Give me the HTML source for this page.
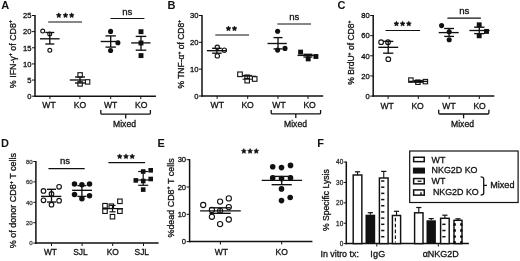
<!DOCTYPE html>
<html><head><meta charset="utf-8"><style>
html,body{margin:0;padding:0;background:#fff;}
body{width:520px;height:261px;overflow:hidden;}
svg{display:block;font-family:"Liberation Sans", sans-serif;will-change:transform;}
</style></head><body>
<svg width="520" height="261" viewBox="0 0 520 261">
<rect x="0" y="0" width="520" height="261" fill="#fff"/>
<text x="1.3" y="8.8" font-size="11" text-anchor="start" font-weight="bold" fill="#111" >A</text>
<line x1="35.0" y1="14.9" x2="35.0" y2="96.9" stroke="#111" stroke-width="1.5"/>
<line x1="32.0" y1="15.5" x2="35.0" y2="15.5" stroke="#111" stroke-width="1.0"/>
<text x="31.5" y="18.236" font-size="7.6" text-anchor="end" font-weight="normal" fill="#111" stroke="#111" stroke-width="0.3" >25</text>
<line x1="32.0" y1="31.64" x2="35.0" y2="31.64" stroke="#111" stroke-width="1.0"/>
<text x="31.5" y="34.376" font-size="7.6" text-anchor="end" font-weight="normal" fill="#111" stroke="#111" stroke-width="0.3" >20</text>
<line x1="32.0" y1="47.78" x2="35.0" y2="47.78" stroke="#111" stroke-width="1.0"/>
<text x="31.5" y="50.516" font-size="7.6" text-anchor="end" font-weight="normal" fill="#111" stroke="#111" stroke-width="0.3" >15</text>
<line x1="32.0" y1="63.92" x2="35.0" y2="63.92" stroke="#111" stroke-width="1.0"/>
<text x="31.5" y="66.656" font-size="7.6" text-anchor="end" font-weight="normal" fill="#111" stroke="#111" stroke-width="0.3" >10</text>
<line x1="32.0" y1="80.06" x2="35.0" y2="80.06" stroke="#111" stroke-width="1.0"/>
<text x="31.5" y="82.796" font-size="7.6" text-anchor="end" font-weight="normal" fill="#111" stroke="#111" stroke-width="0.3" >5</text>
<line x1="32.0" y1="96.2" x2="35.0" y2="96.2" stroke="#111" stroke-width="1.0"/>
<text x="31.5" y="98.936" font-size="7.6" text-anchor="end" font-weight="normal" fill="#111" stroke="#111" stroke-width="0.3" >0</text>
<line x1="34.3" y1="96.2" x2="155.9" y2="96.2" stroke="#111" stroke-width="1.5"/>
<line x1="49.95" y1="96.2" x2="49.95" y2="99.10000000000001" stroke="#111" stroke-width="1.0"/>
<line x1="79.9" y1="96.2" x2="79.9" y2="99.10000000000001" stroke="#111" stroke-width="1.0"/>
<line x1="110.7" y1="96.2" x2="110.7" y2="99.10000000000001" stroke="#111" stroke-width="1.0"/>
<line x1="140.8" y1="96.2" x2="140.8" y2="99.10000000000001" stroke="#111" stroke-width="1.0"/>
<text x="49.0" y="108.1" font-size="8.6" text-anchor="middle" font-weight="normal" fill="#111" stroke="#111" stroke-width="0.3" >WT</text>
<text x="80.0" y="108.1" font-size="8.6" text-anchor="middle" font-weight="normal" fill="#111" stroke="#111" stroke-width="0.3" >KO</text>
<text x="110.7" y="108.1" font-size="8.6" text-anchor="middle" font-weight="normal" fill="#111" stroke="#111" stroke-width="0.3" >WT</text>
<text x="141.2" y="108.1" font-size="8.6" text-anchor="middle" font-weight="normal" fill="#111" stroke="#111" stroke-width="0.3" >KO</text>
<path d="M100.8,110.0 L100.8,113.0 Q100.8,114.2 102.0,114.2 L149.20000000000002,114.2 Q150.4,114.2 150.4,113.0 L150.4,110.0" fill="none" stroke="#111" stroke-width="1.3"/>
<line x1="125.7" y1="114.2" x2="125.7" y2="118.6" stroke="#111" stroke-width="1.3"/>
<text x="124.5" y="127.0" font-size="8.6" text-anchor="middle" font-weight="normal" fill="#111" stroke="#111" stroke-width="0.3" >Mixed</text>
<text x="0" y="0" font-size="8.85" text-anchor="middle" fill="#111" stroke="#111" stroke-width="0.3" transform="translate(15.6,54.1) rotate(-90)">% IFN-γ<tspan font-size="5.31" dy="-3.36">+</tspan><tspan dy="3.36"> of CD8</tspan><tspan font-size="5.31" dy="-3.36">+</tspan></text>
<line x1="48.2" y1="22.0" x2="82.0" y2="22.0" stroke="#111" stroke-width="1.2"/>
<polygon points="58.75,12.80 59.51,14.35 61.22,14.60 59.99,15.80 60.28,17.50 58.75,16.70 57.22,17.50 57.51,15.80 56.28,14.60 57.99,14.35" fill="#111" stroke="#111" stroke-width="0.6" stroke-linejoin="round"/>
<polygon points="65.50,12.80 66.26,14.35 67.97,14.60 66.74,15.80 67.03,17.50 65.50,16.70 63.97,17.50 64.26,15.80 63.03,14.60 64.74,14.35" fill="#111" stroke="#111" stroke-width="0.6" stroke-linejoin="round"/>
<polygon points="71.65,12.80 72.41,14.35 74.12,14.60 72.89,15.80 73.18,17.50 71.65,16.70 70.12,17.50 70.41,15.80 69.18,14.60 70.89,14.35" fill="#111" stroke="#111" stroke-width="0.6" stroke-linejoin="round"/>
<line x1="110.5" y1="18.5" x2="144.4" y2="18.5" stroke="#111" stroke-width="1.2"/>
<text x="127.35" y="14.8" font-size="9.6" text-anchor="middle" font-weight="normal" fill="#111" stroke="#111" stroke-width="0.3" >ns</text>
<circle cx="42.7" cy="31.1" r="1.95" fill="#fff" stroke="#111" stroke-width="1.1"/>
<circle cx="49.7" cy="33.9" r="1.95" fill="#fff" stroke="#111" stroke-width="1.1"/>
<circle cx="49.8" cy="50.3" r="1.95" fill="#fff" stroke="#111" stroke-width="1.1"/>
<rect x="77.89999999999999" y="72.7" width="4.4" height="4.4" fill="#fff" stroke="#111" stroke-width="1.1"/>
<rect x="77.89999999999999" y="81.7" width="4.4" height="4.4" fill="#fff" stroke="#111" stroke-width="1.1"/>
<rect x="85.39999999999999" y="79.7" width="4.4" height="4.4" fill="#fff" stroke="#111" stroke-width="1.1"/>
<circle cx="110.6" cy="31.4" r="2.55" fill="#111"/>
<circle cx="117.9" cy="42.8" r="2.55" fill="#111"/>
<circle cx="110.6" cy="50.5" r="2.55" fill="#111"/>
<rect x="138.55" y="29.25" width="4.9" height="4.9" fill="#111"/>
<rect x="138.55" y="40.55" width="4.9" height="4.9" fill="#111"/>
<rect x="138.55" y="53.15" width="4.9" height="4.9" fill="#111"/>
<text x="167.6" y="8.8" font-size="11" text-anchor="start" font-weight="bold" fill="#111" >B</text>
<line x1="202.0" y1="14.9" x2="202.0" y2="96.7" stroke="#111" stroke-width="1.5"/>
<line x1="199.0" y1="15.5" x2="202.0" y2="15.5" stroke="#111" stroke-width="1.0"/>
<text x="198.5" y="18.236" font-size="7.6" text-anchor="end" font-weight="normal" fill="#111" stroke="#111" stroke-width="0.3" >30</text>
<line x1="199.0" y1="42.33" x2="202.0" y2="42.33" stroke="#111" stroke-width="1.0"/>
<text x="198.5" y="45.065999999999995" font-size="7.6" text-anchor="end" font-weight="normal" fill="#111" stroke="#111" stroke-width="0.3" >20</text>
<line x1="199.0" y1="69.17" x2="202.0" y2="69.17" stroke="#111" stroke-width="1.0"/>
<text x="198.5" y="71.906" font-size="7.6" text-anchor="end" font-weight="normal" fill="#111" stroke="#111" stroke-width="0.3" >10</text>
<line x1="199.0" y1="96.0" x2="202.0" y2="96.0" stroke="#111" stroke-width="1.0"/>
<text x="198.5" y="98.736" font-size="7.6" text-anchor="end" font-weight="normal" fill="#111" stroke="#111" stroke-width="0.3" >0</text>
<line x1="201.3" y1="96.0" x2="323.2" y2="96.0" stroke="#111" stroke-width="1.5"/>
<line x1="217.1" y1="96.0" x2="217.1" y2="98.9" stroke="#111" stroke-width="1.0"/>
<line x1="247.7" y1="96.0" x2="247.7" y2="98.9" stroke="#111" stroke-width="1.0"/>
<line x1="278.0" y1="96.0" x2="278.0" y2="98.9" stroke="#111" stroke-width="1.0"/>
<line x1="308.0" y1="96.0" x2="308.0" y2="98.9" stroke="#111" stroke-width="1.0"/>
<text x="217.3" y="108.4" font-size="8.6" text-anchor="middle" font-weight="normal" fill="#111" stroke="#111" stroke-width="0.3" >WT</text>
<text x="247.6" y="108.4" font-size="8.6" text-anchor="middle" font-weight="normal" fill="#111" stroke="#111" stroke-width="0.3" >KO</text>
<text x="279.0" y="108.4" font-size="8.6" text-anchor="middle" font-weight="normal" fill="#111" stroke="#111" stroke-width="0.3" >WT</text>
<text x="309.6" y="108.4" font-size="8.6" text-anchor="middle" font-weight="normal" fill="#111" stroke="#111" stroke-width="0.3" >KO</text>
<path d="M271.2,110.0 L271.2,112.7 Q271.2,113.9 272.4,113.9 L319.40000000000003,113.9 Q320.6,113.9 320.6,112.7 L320.6,110.0" fill="none" stroke="#111" stroke-width="1.3"/>
<line x1="295.8" y1="113.9" x2="295.8" y2="118.0" stroke="#111" stroke-width="1.3"/>
<text x="295.5" y="126.8" font-size="8.6" text-anchor="middle" font-weight="normal" fill="#111" stroke="#111" stroke-width="0.3" >Mixed</text>
<text x="0" y="0" font-size="8.5" text-anchor="middle" fill="#111" stroke="#111" stroke-width="0.3" transform="translate(183.8,54.2) rotate(-90)">% TNF-α<tspan font-size="5.10" dy="-3.23">+</tspan><tspan dy="3.23"> of CD8</tspan><tspan font-size="5.10" dy="-3.23">+</tspan></text>
<line x1="215.3" y1="35.0" x2="249.0" y2="35.0" stroke="#111" stroke-width="1.2"/>
<polygon points="228.45,26.00 229.21,27.55 230.92,27.80 229.69,29.00 229.98,30.70 228.45,29.90 226.92,30.70 227.21,29.00 225.98,27.80 227.69,27.55" fill="#111" stroke="#111" stroke-width="0.6" stroke-linejoin="round"/>
<polygon points="234.50,26.00 235.26,27.55 236.97,27.80 235.74,29.00 236.03,30.70 234.50,29.90 232.97,30.70 233.26,29.00 232.03,27.80 233.74,27.55" fill="#111" stroke="#111" stroke-width="0.6" stroke-linejoin="round"/>
<line x1="277.4" y1="24.0" x2="311.0" y2="24.0" stroke="#111" stroke-width="1.2"/>
<text x="294.25" y="20.0" font-size="9.6" text-anchor="middle" font-weight="normal" fill="#111" stroke="#111" stroke-width="0.3" >ns</text>
<circle cx="217.3" cy="47.3" r="2.15" fill="#fff" stroke="#111" stroke-width="1.1"/>
<circle cx="224.35" cy="50.2" r="2.15" fill="#fff" stroke="#111" stroke-width="1.1"/>
<circle cx="217.3" cy="55.9" r="2.15" fill="#fff" stroke="#111" stroke-width="1.1"/>
<rect x="237.7" y="72.0" width="4.6" height="4.6" fill="#fff" stroke="#111" stroke-width="1.1"/>
<rect x="244.9" y="75.0" width="4.4" height="4.4" fill="#fff" stroke="#111" stroke-width="1.0"/>
<rect x="244.95" y="78.45" width="4.5" height="4.5" fill="#fff" stroke="#111" stroke-width="1.1"/>
<rect x="252.39999999999998" y="76.7" width="4.6" height="4.6" fill="#fff" stroke="#111" stroke-width="1.1"/>
<circle cx="277.6" cy="31.2" r="2.55" fill="#111"/>
<circle cx="277.6" cy="50.1" r="2.55" fill="#111"/>
<circle cx="285.0" cy="48.4" r="2.55" fill="#111"/>
<rect x="298.15000000000003" y="49.65" width="4.9" height="4.9" fill="#111"/>
<rect x="305.75" y="56.449999999999996" width="4.9" height="4.9" fill="#111"/>
<rect x="313.45" y="54.05" width="4.9" height="4.9" fill="#111"/>
<text x="337.6" y="9.0" font-size="11" text-anchor="start" font-weight="bold" fill="#111" >C</text>
<line x1="373.2" y1="14.9" x2="373.2" y2="96.8" stroke="#111" stroke-width="1.5"/>
<line x1="370.2" y1="15.5" x2="373.2" y2="15.5" stroke="#111" stroke-width="1.0"/>
<text x="369.7" y="18.236" font-size="7.6" text-anchor="end" font-weight="normal" fill="#111" stroke="#111" stroke-width="0.3" >80</text>
<line x1="370.2" y1="35.65" x2="373.2" y2="35.65" stroke="#111" stroke-width="1.0"/>
<text x="369.7" y="38.385999999999996" font-size="7.6" text-anchor="end" font-weight="normal" fill="#111" stroke="#111" stroke-width="0.3" >60</text>
<line x1="370.2" y1="55.8" x2="373.2" y2="55.8" stroke="#111" stroke-width="1.0"/>
<text x="369.7" y="58.535999999999994" font-size="7.6" text-anchor="end" font-weight="normal" fill="#111" stroke="#111" stroke-width="0.3" >40</text>
<line x1="370.2" y1="75.95" x2="373.2" y2="75.95" stroke="#111" stroke-width="1.0"/>
<text x="369.7" y="78.686" font-size="7.6" text-anchor="end" font-weight="normal" fill="#111" stroke="#111" stroke-width="0.3" >20</text>
<line x1="370.2" y1="96.1" x2="373.2" y2="96.1" stroke="#111" stroke-width="1.0"/>
<text x="369.7" y="98.836" font-size="7.6" text-anchor="end" font-weight="normal" fill="#111" stroke="#111" stroke-width="0.3" >0</text>
<line x1="372.5" y1="96.1" x2="494.3" y2="96.1" stroke="#111" stroke-width="1.5"/>
<line x1="388.1" y1="96.1" x2="388.1" y2="99.0" stroke="#111" stroke-width="1.0"/>
<line x1="418.3" y1="96.1" x2="418.3" y2="99.0" stroke="#111" stroke-width="1.0"/>
<line x1="449.2" y1="96.1" x2="449.2" y2="99.0" stroke="#111" stroke-width="1.0"/>
<line x1="479.3" y1="96.1" x2="479.3" y2="99.0" stroke="#111" stroke-width="1.0"/>
<text x="387.2" y="108.7" font-size="8.6" text-anchor="middle" font-weight="normal" fill="#111" stroke="#111" stroke-width="0.3" >WT</text>
<text x="417.6" y="108.7" font-size="8.6" text-anchor="middle" font-weight="normal" fill="#111" stroke="#111" stroke-width="0.3" >KO</text>
<text x="449.0" y="108.7" font-size="8.6" text-anchor="middle" font-weight="normal" fill="#111" stroke="#111" stroke-width="0.3" >WT</text>
<text x="479.6" y="108.7" font-size="8.6" text-anchor="middle" font-weight="normal" fill="#111" stroke="#111" stroke-width="0.3" >KO</text>
<path d="M438.7,109.8 L438.7,112.8 Q438.7,114.0 439.9,114.0 L487.7,114.0 Q488.9,114.0 488.9,112.8 L488.9,109.8" fill="none" stroke="#111" stroke-width="1.3"/>
<line x1="463.6" y1="114.0" x2="463.6" y2="118.3" stroke="#111" stroke-width="1.3"/>
<text x="462.5" y="126.8" font-size="8.6" text-anchor="middle" font-weight="normal" fill="#111" stroke="#111" stroke-width="0.3" >Mixed</text>
<text x="0" y="0" font-size="8.5" text-anchor="middle" fill="#111" stroke="#111" stroke-width="0.3" transform="translate(354.3,52.65) rotate(-90)">% BrdU<tspan font-size="5.10" dy="-3.23">+</tspan><tspan dy="3.23"> of CD8</tspan><tspan font-size="5.10" dy="-3.23">+</tspan></text>
<line x1="385.5" y1="30.5" x2="420.1" y2="30.5" stroke="#111" stroke-width="1.2"/>
<polygon points="396.40,21.20 397.16,22.75 398.87,23.00 397.64,24.20 397.93,25.90 396.40,25.10 394.87,25.90 395.16,24.20 393.93,23.00 395.64,22.75" fill="#111" stroke="#111" stroke-width="0.6" stroke-linejoin="round"/>
<polygon points="402.60,21.20 403.36,22.75 405.07,23.00 403.84,24.20 404.13,25.90 402.60,25.10 401.07,25.90 401.36,24.20 400.13,23.00 401.84,22.75" fill="#111" stroke="#111" stroke-width="0.6" stroke-linejoin="round"/>
<polygon points="408.80,21.20 409.56,22.75 411.27,23.00 410.04,24.20 410.33,25.90 408.80,25.10 407.27,25.90 407.56,24.20 406.33,23.00 408.04,22.75" fill="#111" stroke="#111" stroke-width="0.6" stroke-linejoin="round"/>
<line x1="447.4" y1="18.1" x2="480.9" y2="18.1" stroke="#111" stroke-width="1.2"/>
<text x="464.35" y="14.4" font-size="9.6" text-anchor="middle" font-weight="normal" fill="#111" stroke="#111" stroke-width="0.3" >ns</text>
<circle cx="381.1" cy="42.2" r="2.35" fill="#fff" stroke="#111" stroke-width="1.1"/>
<circle cx="388.0" cy="42.2" r="2.35" fill="#fff" stroke="#111" stroke-width="1.1"/>
<circle cx="388.3" cy="59.2" r="2.35" fill="#fff" stroke="#111" stroke-width="1.1"/>
<rect x="408.7" y="77.89999999999999" width="4.4" height="4.4" fill="#fff" stroke="#111" stroke-width="1.1"/>
<rect x="415.7" y="80.0" width="4.4" height="4.4" fill="#fff" stroke="#111" stroke-width="1.1"/>
<rect x="423.2" y="79.39999999999999" width="4.4" height="4.4" fill="#fff" stroke="#111" stroke-width="1.1"/>
<circle cx="441.6" cy="25.6" r="2.55" fill="#111"/>
<circle cx="449.2" cy="31.8" r="2.55" fill="#111"/>
<circle cx="449.2" cy="39.7" r="2.55" fill="#111"/>
<rect x="476.75" y="22.35" width="4.9" height="4.9" fill="#111"/>
<rect x="484.05" y="28.95" width="4.9" height="4.9" fill="#111"/>
<rect x="476.75" y="33.349999999999994" width="4.9" height="4.9" fill="#111"/>
<text x="1.0" y="147.0" font-size="11" text-anchor="start" font-weight="bold" fill="#111" >D</text>
<line x1="35.9" y1="160.9" x2="35.9" y2="243.79999999999998" stroke="#111" stroke-width="1.5"/>
<line x1="33.3" y1="161.5" x2="35.9" y2="161.5" stroke="#111" stroke-width="1.0"/>
<text x="32.8" y="163.732" font-size="6.2" text-anchor="end" font-weight="normal" fill="#444" stroke="#444" stroke-width="0.3" >80</text>
<line x1="33.3" y1="181.9" x2="35.9" y2="181.9" stroke="#111" stroke-width="1.0"/>
<text x="32.8" y="184.132" font-size="6.2" text-anchor="end" font-weight="normal" fill="#444" stroke="#444" stroke-width="0.3" >60</text>
<line x1="33.3" y1="202.3" x2="35.9" y2="202.3" stroke="#111" stroke-width="1.0"/>
<text x="32.8" y="204.532" font-size="6.2" text-anchor="end" font-weight="normal" fill="#444" stroke="#444" stroke-width="0.3" >40</text>
<line x1="33.3" y1="222.7" x2="35.9" y2="222.7" stroke="#111" stroke-width="1.0"/>
<text x="32.8" y="224.932" font-size="6.2" text-anchor="end" font-weight="normal" fill="#444" stroke="#444" stroke-width="0.3" >20</text>
<line x1="33.3" y1="243.1" x2="35.9" y2="243.1" stroke="#111" stroke-width="1.0"/>
<text x="32.8" y="245.332" font-size="6.2" text-anchor="end" font-weight="normal" fill="#444" stroke="#444" stroke-width="0.3" >0</text>
<line x1="35.199999999999996" y1="243.1" x2="158.6" y2="243.1" stroke="#111" stroke-width="1.5"/>
<line x1="51.5" y1="243.1" x2="51.5" y2="246.0" stroke="#111" stroke-width="1.0"/>
<line x1="82.1" y1="243.1" x2="82.1" y2="246.0" stroke="#111" stroke-width="1.0"/>
<line x1="112.7" y1="243.1" x2="112.7" y2="246.0" stroke="#111" stroke-width="1.0"/>
<line x1="143.5" y1="243.1" x2="143.5" y2="246.0" stroke="#111" stroke-width="1.0"/>
<text x="50.4" y="255.1" font-size="8.4" text-anchor="middle" font-weight="normal" fill="#111" stroke="#111" stroke-width="0.3" >WT</text>
<text x="80.5" y="255.1" font-size="8.4" text-anchor="middle" font-weight="normal" fill="#111" stroke="#111" stroke-width="0.3" >SJL</text>
<text x="112.7" y="255.1" font-size="8.4" text-anchor="middle" font-weight="normal" fill="#111" stroke="#111" stroke-width="0.3" >KO</text>
<text x="141.8" y="255.1" font-size="8.4" text-anchor="middle" font-weight="normal" fill="#111" stroke="#111" stroke-width="0.3" >SJL</text>
<text x="0" y="0" font-size="9.0" text-anchor="middle" fill="#111" stroke="#111" stroke-width="0.3" transform="translate(16.2,200.6) rotate(-90)">% of  donor CD8<tspan font-size="5.40" dy="-3.42">+</tspan><tspan dy="3.42"> T cells</tspan></text>
<line x1="48.4" y1="168.6" x2="84.7" y2="168.6" stroke="#111" stroke-width="1.2"/>
<text x="64.95" y="164.4" font-size="9.6" text-anchor="middle" font-weight="normal" fill="#111" stroke="#111" stroke-width="0.3" >ns</text>
<line x1="108.4" y1="162.6" x2="145.1" y2="162.6" stroke="#111" stroke-width="1.2"/>
<polygon points="119.70,153.90 120.46,155.45 122.17,155.70 120.94,156.90 121.23,158.60 119.70,157.80 118.17,158.60 118.46,156.90 117.23,155.70 118.94,155.45" fill="#111" stroke="#111" stroke-width="0.6" stroke-linejoin="round"/>
<polygon points="126.00,153.90 126.76,155.45 128.47,155.70 127.24,156.90 127.53,158.60 126.00,157.80 124.47,158.60 124.76,156.90 123.53,155.70 125.24,155.45" fill="#111" stroke="#111" stroke-width="0.6" stroke-linejoin="round"/>
<polygon points="132.20,153.90 132.96,155.45 134.67,155.70 133.44,156.90 133.73,158.60 132.20,157.80 130.67,158.60 130.96,156.90 129.73,155.70 131.44,155.45" fill="#111" stroke="#111" stroke-width="0.6" stroke-linejoin="round"/>
<circle cx="43.5" cy="190.9" r="2.3" fill="#fff" stroke="#111" stroke-width="1.1"/>
<circle cx="51.5" cy="193.9" r="2.3" fill="#fff" stroke="#111" stroke-width="1.1"/>
<circle cx="59.1" cy="186.8" r="2.3" fill="#fff" stroke="#111" stroke-width="1.1"/>
<circle cx="43.5" cy="200.3" r="2.3" fill="#fff" stroke="#111" stroke-width="1.1"/>
<circle cx="59.1" cy="200.7" r="2.3" fill="#fff" stroke="#111" stroke-width="1.1"/>
<circle cx="51.5" cy="204.7" r="2.3" fill="#fff" stroke="#111" stroke-width="1.1"/>
<circle cx="74.5" cy="184.1" r="2.75" fill="#111"/>
<circle cx="81.9" cy="184.7" r="2.75" fill="#111"/>
<circle cx="89.5" cy="184.1" r="2.75" fill="#111"/>
<circle cx="74.5" cy="194.6" r="2.75" fill="#111"/>
<circle cx="89.5" cy="195.8" r="2.75" fill="#111"/>
<circle cx="81.9" cy="198.8" r="2.75" fill="#111"/>
<rect x="117.65" y="199.05" width="4.5" height="4.5" fill="#fff" stroke="#111" stroke-width="1.1"/>
<rect x="102.75" y="203.45" width="4.5" height="4.5" fill="#fff" stroke="#111" stroke-width="1.1"/>
<rect x="109.05" y="203.95" width="4.5" height="4.5" fill="#fff" stroke="#111" stroke-width="1.1"/>
<rect x="102.75" y="208.95" width="4.5" height="4.5" fill="#fff" stroke="#111" stroke-width="1.1"/>
<rect x="117.65" y="208.95" width="4.5" height="4.5" fill="#fff" stroke="#111" stroke-width="1.1"/>
<rect x="110.25" y="214.45" width="4.5" height="4.5" fill="#fff" stroke="#111" stroke-width="1.1"/>
<rect x="140.89999999999998" y="169.2" width="4.6" height="4.6" fill="#111"/>
<rect x="148.39999999999998" y="168.0" width="4.6" height="4.6" fill="#111"/>
<rect x="133.5" y="178.1" width="4.6" height="4.6" fill="#111"/>
<rect x="140.89999999999998" y="178.7" width="4.6" height="4.6" fill="#111"/>
<rect x="148.39999999999998" y="176.7" width="4.6" height="4.6" fill="#111"/>
<rect x="140.89999999999998" y="187.29999999999998" width="4.6" height="4.6" fill="#111"/>
<text x="157.6" y="147.0" font-size="11" text-anchor="start" font-weight="bold" fill="#111" >E</text>
<line x1="189.6" y1="159.1" x2="189.6" y2="242.29999999999998" stroke="#111" stroke-width="1.5"/>
<line x1="186.6" y1="159.7" x2="189.6" y2="159.7" stroke="#111" stroke-width="1.0"/>
<text x="186.1" y="162.43599999999998" font-size="7.6" text-anchor="end" font-weight="normal" fill="#111" stroke="#111" stroke-width="0.3" >30</text>
<line x1="186.6" y1="187.0" x2="189.6" y2="187.0" stroke="#111" stroke-width="1.0"/>
<text x="186.1" y="189.736" font-size="7.6" text-anchor="end" font-weight="normal" fill="#111" stroke="#111" stroke-width="0.3" >20</text>
<line x1="186.6" y1="214.3" x2="189.6" y2="214.3" stroke="#111" stroke-width="1.0"/>
<text x="186.1" y="217.036" font-size="7.6" text-anchor="end" font-weight="normal" fill="#111" stroke="#111" stroke-width="0.3" >10</text>
<line x1="186.6" y1="241.6" x2="189.6" y2="241.6" stroke="#111" stroke-width="1.0"/>
<text x="186.1" y="244.33599999999998" font-size="7.6" text-anchor="end" font-weight="normal" fill="#111" stroke="#111" stroke-width="0.3" >0</text>
<line x1="188.9" y1="241.6" x2="312.4" y2="241.6" stroke="#111" stroke-width="1.5"/>
<line x1="220.4" y1="241.6" x2="220.4" y2="244.5" stroke="#111" stroke-width="1.0"/>
<line x1="281.7" y1="241.6" x2="281.7" y2="244.5" stroke="#111" stroke-width="1.0"/>
<text x="221.3" y="255.1" font-size="8.5" text-anchor="middle" font-weight="normal" fill="#111" stroke="#111" stroke-width="0.3" >WT</text>
<text x="281.7" y="255.1" font-size="8.5" text-anchor="middle" font-weight="normal" fill="#111" stroke="#111" stroke-width="0.3" >KO</text>
<text x="0" y="0" font-size="8.93" text-anchor="middle" fill="#111" stroke="#111" stroke-width="0.3" transform="translate(173.8,197.95) rotate(-90)">%dead CD8<tspan font-size="5.36" dy="-3.39">+</tspan><tspan dy="3.39"> T cells</tspan></text>
<polygon points="243.85,148.60 244.61,150.15 246.32,150.40 245.09,151.60 245.38,153.30 243.85,152.50 242.32,153.30 242.61,151.60 241.38,150.40 243.09,150.15" fill="#111" stroke="#111" stroke-width="0.6" stroke-linejoin="round"/>
<polygon points="250.10,148.60 250.86,150.15 252.57,150.40 251.34,151.60 251.63,153.30 250.10,152.50 248.57,153.30 248.86,151.60 247.63,150.40 249.34,150.15" fill="#111" stroke="#111" stroke-width="0.6" stroke-linejoin="round"/>
<polygon points="256.30,148.60 257.06,150.15 258.77,150.40 257.54,151.60 257.83,153.30 256.30,152.50 254.77,153.30 255.06,151.60 253.83,150.40 255.54,150.15" fill="#111" stroke="#111" stroke-width="0.6" stroke-linejoin="round"/>
<circle cx="203.2" cy="205.0" r="2.6" fill="#fff" stroke="#111" stroke-width="1.1"/>
<circle cx="220.1" cy="201.6" r="2.6" fill="#fff" stroke="#111" stroke-width="1.1"/>
<circle cx="228.8" cy="198.4" r="2.6" fill="#fff" stroke="#111" stroke-width="1.1"/>
<circle cx="211.9" cy="209.9" r="2.6" fill="#fff" stroke="#111" stroke-width="1.1"/>
<circle cx="220.1" cy="210.8" r="2.6" fill="#fff" stroke="#111" stroke-width="1.1"/>
<circle cx="228.8" cy="207.1" r="2.6" fill="#fff" stroke="#111" stroke-width="1.1"/>
<circle cx="211.9" cy="216.8" r="2.6" fill="#fff" stroke="#111" stroke-width="1.1"/>
<circle cx="228.8" cy="219.5" r="2.6" fill="#fff" stroke="#111" stroke-width="1.1"/>
<circle cx="220.1" cy="224.1" r="2.6" fill="#fff" stroke="#111" stroke-width="1.1"/>
<circle cx="272.7" cy="166.8" r="2.8" fill="#111"/>
<circle cx="281.5" cy="167.6" r="2.8" fill="#111"/>
<circle cx="290.5" cy="165.4" r="2.8" fill="#111"/>
<circle cx="272.7" cy="177.9" r="2.8" fill="#111"/>
<circle cx="281.5" cy="178.6" r="2.8" fill="#111"/>
<circle cx="290.5" cy="177.9" r="2.8" fill="#111"/>
<circle cx="281.5" cy="188.9" r="2.8" fill="#111"/>
<circle cx="281.5" cy="200.6" r="2.8" fill="#111"/>
<circle cx="290.2" cy="197.5" r="2.8" fill="#111"/>
<text x="317.3" y="147.0" font-size="11" text-anchor="start" font-weight="bold" fill="#111" >F</text>
<line x1="346.3" y1="161.5" x2="346.3" y2="244.29999999999998" stroke="#111" stroke-width="1.5"/>
<line x1="343.7" y1="162.1" x2="346.3" y2="162.1" stroke="#111" stroke-width="1.0"/>
<text x="343.2" y="164.404" font-size="6.4" text-anchor="end" font-weight="normal" fill="#333" stroke="#333" stroke-width="0.3" >40</text>
<line x1="343.7" y1="182.47" x2="346.3" y2="182.47" stroke="#111" stroke-width="1.0"/>
<text x="343.2" y="184.774" font-size="6.4" text-anchor="end" font-weight="normal" fill="#333" stroke="#333" stroke-width="0.3" >30</text>
<line x1="343.7" y1="202.85" x2="346.3" y2="202.85" stroke="#111" stroke-width="1.0"/>
<text x="343.2" y="205.154" font-size="6.4" text-anchor="end" font-weight="normal" fill="#333" stroke="#333" stroke-width="0.3" >20</text>
<line x1="343.7" y1="223.22" x2="346.3" y2="223.22" stroke="#111" stroke-width="1.0"/>
<text x="343.2" y="225.524" font-size="6.4" text-anchor="end" font-weight="normal" fill="#333" stroke="#333" stroke-width="0.3" >10</text>
<line x1="343.7" y1="243.6" x2="346.3" y2="243.6" stroke="#111" stroke-width="1.0"/>
<text x="343.2" y="245.904" font-size="6.4" text-anchor="end" font-weight="normal" fill="#333" stroke="#333" stroke-width="0.3" >0</text>
<line x1="345.6" y1="243.6" x2="468.9" y2="243.6" stroke="#111" stroke-width="1.5"/>
<line x1="376.8" y1="243.6" x2="376.8" y2="246.5" stroke="#111" stroke-width="1.0"/>
<line x1="438.3" y1="243.6" x2="438.3" y2="246.5" stroke="#111" stroke-width="1.0"/>
<text x="0" y="0" font-size="8.6" text-anchor="middle" fill="#111" stroke="#111" stroke-width="0.3" transform="translate(328.6,200.2) rotate(-90)">% Specific Lysis</text>
<text x="320.5" y="256.8" font-size="8.85" text-anchor="start" font-weight="normal" fill="#111" stroke="#111" stroke-width="0.3" >In vitro tx:</text>
<text x="378.0" y="256.6" font-size="9.0" text-anchor="middle" font-weight="normal" fill="#111" stroke="#111" stroke-width="0.3" letter-spacing="0.25">IgG</text>
<text x="440.75" y="256.6" font-size="9.0" text-anchor="middle" font-weight="normal" fill="#111" stroke="#111" stroke-width="0.3" >αNKG2D</text>
<line x1="357.525" y1="171.8" x2="357.525" y2="175.0" stroke="#111" stroke-width="1.1"/>
<line x1="354.92499999999995" y1="171.8" x2="360.125" y2="171.8" stroke="#111" stroke-width="1.2"/>
<rect x="353.2" y="175.0" width="8.650000000000034" height="68.6" fill="#fff" stroke="#111" stroke-width="1.45"/>
<line x1="370.35" y1="212.7" x2="370.35" y2="214.7" stroke="#111" stroke-width="1.1"/>
<line x1="367.75" y1="212.7" x2="372.95000000000005" y2="212.7" stroke="#111" stroke-width="1.2"/>
<rect x="365.5" y="214.7" width="9.699999999999989" height="28.900000000000006" fill="#111"/>
<line x1="383.75" y1="171.4" x2="383.75" y2="178.0" stroke="#111" stroke-width="1.1"/>
<line x1="381.15" y1="171.4" x2="386.35" y2="171.4" stroke="#111" stroke-width="1.2"/>
<rect x="379.4" y="178.0" width="8.700000000000045" height="65.6" fill="#fff" stroke="#111" stroke-width="1.45"/>
<line x1="381.15" y1="181.0" x2="384.35" y2="181.0" stroke="#111" stroke-width="1.5"/>
<line x1="381.15" y1="187.19" x2="384.35" y2="187.19" stroke="#111" stroke-width="1.5"/>
<line x1="381.15" y1="193.38" x2="384.35" y2="193.38" stroke="#111" stroke-width="1.5"/>
<line x1="381.15" y1="199.57" x2="384.35" y2="199.57" stroke="#111" stroke-width="1.5"/>
<line x1="381.15" y1="205.76" x2="384.35" y2="205.76" stroke="#111" stroke-width="1.5"/>
<line x1="381.15" y1="211.95" x2="384.35" y2="211.95" stroke="#111" stroke-width="1.5"/>
<line x1="381.15" y1="218.14" x2="384.35" y2="218.14" stroke="#111" stroke-width="1.5"/>
<line x1="381.15" y1="224.33" x2="384.35" y2="224.33" stroke="#111" stroke-width="1.5"/>
<line x1="381.15" y1="230.52" x2="384.35" y2="230.52" stroke="#111" stroke-width="1.5"/>
<line x1="381.15" y1="236.71" x2="384.35" y2="236.71" stroke="#111" stroke-width="1.5"/>
<line x1="396.5" y1="211.3" x2="396.5" y2="215.5" stroke="#111" stroke-width="1.1"/>
<line x1="393.9" y1="211.3" x2="399.1" y2="211.3" stroke="#111" stroke-width="1.2"/>
<rect x="392.4" y="215.5" width="8.200000000000045" height="28.099999999999994" fill="#fff" stroke="#111" stroke-width="1.45"/>
<line x1="395.4" y1="217.8" x2="395.4" y2="221.4" stroke="#111" stroke-width="1.2"/>
<line x1="395.4" y1="223.70000000000002" x2="395.4" y2="227.3" stroke="#111" stroke-width="1.2"/>
<line x1="395.4" y1="229.60000000000002" x2="395.4" y2="233.20000000000002" stroke="#111" stroke-width="1.2"/>
<line x1="395.4" y1="235.5" x2="395.4" y2="239.1" stroke="#111" stroke-width="1.2"/>
<line x1="395.4" y1="241.4" x2="395.4" y2="242.6" stroke="#111" stroke-width="1.2"/>
<line x1="418.8" y1="207.5" x2="418.8" y2="212.8" stroke="#111" stroke-width="1.1"/>
<line x1="416.2" y1="207.5" x2="421.40000000000003" y2="207.5" stroke="#111" stroke-width="1.2"/>
<rect x="414.6" y="212.8" width="8.399999999999977" height="30.799999999999983" fill="#fff" stroke="#111" stroke-width="1.45"/>
<line x1="431.2" y1="218.6" x2="431.2" y2="220.3" stroke="#111" stroke-width="1.1"/>
<line x1="428.59999999999997" y1="218.6" x2="433.8" y2="218.6" stroke="#111" stroke-width="1.2"/>
<rect x="426.5" y="220.3" width="9.399999999999977" height="23.299999999999983" fill="#111"/>
<line x1="444.9" y1="215.2" x2="444.9" y2="218.3" stroke="#111" stroke-width="1.1"/>
<line x1="442.29999999999995" y1="215.2" x2="447.5" y2="215.2" stroke="#111" stroke-width="1.2"/>
<rect x="440.6" y="218.3" width="8.599999999999966" height="25.299999999999983" fill="#fff" stroke="#111" stroke-width="1.45"/>
<line x1="442.29999999999995" y1="224.33" x2="445.5" y2="224.33" stroke="#111" stroke-width="1.5"/>
<line x1="442.29999999999995" y1="230.52" x2="445.5" y2="230.52" stroke="#111" stroke-width="1.5"/>
<line x1="442.29999999999995" y1="236.71" x2="445.5" y2="236.71" stroke="#111" stroke-width="1.5"/>
<line x1="458.0" y1="218.8" x2="458.0" y2="220.3" stroke="#111" stroke-width="1.1"/>
<line x1="455.4" y1="218.8" x2="460.6" y2="218.8" stroke="#111" stroke-width="1.2"/>
<rect x="454.0" y="220.3" width="8.0" height="23.299999999999983" fill="#fff" stroke="#111" stroke-width="1.45"/>
<ellipse cx="454.7" cy="224.4" rx="1.25" ry="1.7" fill="#111"/>
<ellipse cx="461.3" cy="224.4" rx="1.25" ry="1.7" fill="#111"/>
<ellipse cx="454.7" cy="230.5" rx="1.25" ry="1.7" fill="#111"/>
<ellipse cx="461.3" cy="230.5" rx="1.25" ry="1.7" fill="#111"/>
<ellipse cx="454.7" cy="236.6" rx="1.25" ry="1.7" fill="#111"/>
<ellipse cx="461.3" cy="236.6" rx="1.25" ry="1.7" fill="#111"/>
<ellipse cx="454.7" cy="242.4" rx="1.25" ry="1.7" fill="#111"/>
<ellipse cx="461.3" cy="242.4" rx="1.25" ry="1.7" fill="#111"/>
<rect x="409.7" y="151.0" width="108.4" height="51.5" fill="#fff" stroke="#111" stroke-width="1.2"/>
<rect x="413.65" y="157.25" width="10.600000000000023" height="4.400000000000006" fill="#fff" stroke="#111" stroke-width="1.5"/>
<rect x="412.9" y="167.6" width="12.100000000000023" height="6.0" fill="#111"/>
<rect x="413.65" y="178.55" width="10.600000000000023" height="5.299999999999983" fill="#fff" stroke="#111" stroke-width="1.5"/>
<line x1="417.5" y1="181.2" x2="421.5" y2="181.2" stroke="#111" stroke-width="1.3"/>
<rect x="413.65" y="189.95" width="10.600000000000023" height="5.200000000000017" fill="#fff" stroke="#111" stroke-width="1.5"/>
<line x1="421.0" y1="192.25" x2="421.0" y2="195.1" stroke="#111" stroke-width="1.4"/>
<text x="431.6" y="162.6" font-size="8.9" text-anchor="start" font-weight="normal" fill="#111" stroke="#111" stroke-width="0.3" >WT</text>
<text x="431.6" y="173.1" font-size="8.9" text-anchor="start" font-weight="normal" fill="#111" stroke="#111" stroke-width="0.3" >NKG2D KO</text>
<text x="431.6" y="184.2" font-size="8.9" text-anchor="start" font-weight="normal" fill="#111" stroke="#111" stroke-width="0.3" >WT</text>
<text x="432.9" y="195.0" font-size="8.9" text-anchor="start" font-weight="normal" fill="#111" stroke="#111" stroke-width="0.3" >NKG2D KO</text>
<path d="M480.6,176.8 Q483.7,176.8 483.7,178.8 L483.7,193.0 Q483.7,195.1 480.6,195.1 M483.7,185.4 L487.0,185.4" fill="none" stroke="#111" stroke-width="1.3"/>
<text x="490.2" y="187.8" font-size="9.1" text-anchor="start" font-weight="normal" fill="#111" stroke="#111" stroke-width="0.3" >Mixed</text>
<line x1="40.0" y1="38.8" x2="59.6" y2="38.8" stroke="#111" stroke-width="1.35"/>
<line x1="49.8" y1="32.5" x2="49.8" y2="44.0" stroke="#111" stroke-width="1.35"/>
<line x1="45.3" y1="32.5" x2="54.3" y2="32.5" stroke="#111" stroke-width="1.35"/>
<line x1="45.3" y1="44.0" x2="54.3" y2="44.0" stroke="#111" stroke-width="1.35"/>
<line x1="69.8" y1="80.0" x2="85.1" y2="80.0" stroke="#111" stroke-width="1.35"/>
<line x1="80.0" y1="77.0" x2="80.0" y2="83.0" stroke="#111" stroke-width="1.35"/>
<line x1="75.0" y1="77.0" x2="85.0" y2="77.0" stroke="#111" stroke-width="1.35"/>
<line x1="75.0" y1="83.0" x2="85.0" y2="83.0" stroke="#111" stroke-width="1.35"/>
<line x1="100.7" y1="41.5" x2="120.0" y2="41.5" stroke="#111" stroke-width="1.35"/>
<line x1="110.7" y1="35.9" x2="110.7" y2="47.1" stroke="#111" stroke-width="1.35"/>
<line x1="105.5" y1="35.9" x2="115.9" y2="35.9" stroke="#111" stroke-width="1.35"/>
<line x1="105.5" y1="47.1" x2="115.9" y2="47.1" stroke="#111" stroke-width="1.35"/>
<line x1="131.2" y1="42.9" x2="150.5" y2="42.9" stroke="#111" stroke-width="1.35"/>
<line x1="141.0" y1="36.4" x2="141.0" y2="50.2" stroke="#111" stroke-width="1.35"/>
<line x1="135.7" y1="36.4" x2="146.3" y2="36.4" stroke="#111" stroke-width="1.35"/>
<line x1="135.7" y1="50.2" x2="146.3" y2="50.2" stroke="#111" stroke-width="1.35"/>
<line x1="206.9" y1="50.7" x2="226.8" y2="50.7" stroke="#111" stroke-width="1.35"/>
<line x1="216.9" y1="48.3" x2="216.9" y2="53.2" stroke="#111" stroke-width="1.35"/>
<line x1="212.1" y1="48.3" x2="221.70000000000002" y2="48.3" stroke="#111" stroke-width="1.35"/>
<line x1="212.1" y1="53.2" x2="221.70000000000002" y2="53.2" stroke="#111" stroke-width="1.35"/>
<line x1="242.3" y1="76.2" x2="256.4" y2="76.2" stroke="#111" stroke-width="1.0"/>
<line x1="247.3" y1="75.4" x2="247.3" y2="79.2" stroke="#111" stroke-width="1.0"/>
<line x1="242.5" y1="75.4" x2="252.10000000000002" y2="75.4" stroke="#111" stroke-width="1.0"/>
<line x1="242.5" y1="79.2" x2="252.10000000000002" y2="79.2" stroke="#111" stroke-width="1.0"/>
<line x1="267.5" y1="43.5" x2="286.8" y2="43.5" stroke="#111" stroke-width="1.35"/>
<line x1="278.0" y1="37.6" x2="278.0" y2="48.9" stroke="#111" stroke-width="1.35"/>
<line x1="273.5" y1="37.6" x2="282.5" y2="37.6" stroke="#111" stroke-width="1.35"/>
<line x1="273.5" y1="48.9" x2="282.5" y2="48.9" stroke="#111" stroke-width="1.35"/>
<line x1="297.5" y1="55.4" x2="318.0" y2="55.4" stroke="#111" stroke-width="1.35"/>
<line x1="307.9" y1="54.3" x2="307.9" y2="57.0" stroke="#111" stroke-width="1.35"/>
<line x1="303.4" y1="54.3" x2="312.4" y2="54.3" stroke="#111" stroke-width="1.35"/>
<line x1="303.4" y1="57.0" x2="312.4" y2="57.0" stroke="#111" stroke-width="1.35"/>
<line x1="378.3" y1="47.3" x2="398.2" y2="47.3" stroke="#111" stroke-width="1.35"/>
<line x1="388.2" y1="41.4" x2="388.2" y2="53.2" stroke="#111" stroke-width="1.35"/>
<line x1="383.09999999999997" y1="41.4" x2="393.3" y2="41.4" stroke="#111" stroke-width="1.35"/>
<line x1="383.09999999999997" y1="53.2" x2="393.3" y2="53.2" stroke="#111" stroke-width="1.35"/>
<line x1="408.9" y1="81.4" x2="427.6" y2="81.4" stroke="#111" stroke-width="1.35"/>
<line x1="418.3" y1="80.6" x2="418.3" y2="82.2" stroke="#111" stroke-width="1.35"/>
<line x1="413.8" y1="80.6" x2="422.8" y2="80.6" stroke="#111" stroke-width="1.35"/>
<line x1="413.8" y1="82.2" x2="422.8" y2="82.2" stroke="#111" stroke-width="1.35"/>
<line x1="438.7" y1="32.6" x2="458.7" y2="32.6" stroke="#111" stroke-width="1.35"/>
<line x1="449.1" y1="28.5" x2="449.1" y2="36.4" stroke="#111" stroke-width="1.35"/>
<line x1="444.20000000000005" y1="28.5" x2="454.0" y2="28.5" stroke="#111" stroke-width="1.35"/>
<line x1="444.20000000000005" y1="36.4" x2="454.0" y2="36.4" stroke="#111" stroke-width="1.35"/>
<line x1="469.4" y1="30.5" x2="489.6" y2="30.5" stroke="#111" stroke-width="1.35"/>
<line x1="479.3" y1="27.2" x2="479.3" y2="33.6" stroke="#111" stroke-width="1.35"/>
<line x1="474.1" y1="27.2" x2="484.5" y2="27.2" stroke="#111" stroke-width="1.35"/>
<line x1="474.1" y1="33.6" x2="484.5" y2="33.6" stroke="#111" stroke-width="1.35"/>
<line x1="41.0" y1="196.4" x2="61.3" y2="196.4" stroke="#111" stroke-width="1.35"/>
<line x1="51.5" y1="189.3" x2="51.5" y2="202.0" stroke="#111" stroke-width="1.35"/>
<line x1="47.0" y1="189.3" x2="56.0" y2="189.3" stroke="#111" stroke-width="1.35"/>
<line x1="47.0" y1="202.0" x2="56.0" y2="202.0" stroke="#111" stroke-width="1.35"/>
<line x1="72.1" y1="190.3" x2="92.0" y2="190.3" stroke="#111" stroke-width="1.35"/>
<line x1="81.9" y1="185.6" x2="81.9" y2="196.4" stroke="#111" stroke-width="1.35"/>
<line x1="77.4" y1="185.6" x2="86.4" y2="185.6" stroke="#111" stroke-width="1.35"/>
<line x1="77.4" y1="196.4" x2="86.4" y2="196.4" stroke="#111" stroke-width="1.35"/>
<line x1="102.5" y1="208.6" x2="122.9" y2="208.6" stroke="#111" stroke-width="1.2"/>
<line x1="112.5" y1="205.4" x2="112.5" y2="211.8" stroke="#111" stroke-width="1.2"/>
<line x1="109.5" y1="205.4" x2="115.5" y2="205.4" stroke="#111" stroke-width="1.2"/>
<line x1="109.5" y1="211.8" x2="115.5" y2="211.8" stroke="#111" stroke-width="1.2"/>
<line x1="134.5" y1="180.0" x2="152.5" y2="180.0" stroke="#111" stroke-width="1.2"/>
<line x1="143.2" y1="171.5" x2="143.2" y2="185.3" stroke="#111" stroke-width="1.2"/>
<line x1="138.2" y1="171.5" x2="148.2" y2="171.5" stroke="#111" stroke-width="1.2"/>
<line x1="138.2" y1="185.3" x2="148.2" y2="185.3" stroke="#111" stroke-width="1.2"/>
<line x1="200.1" y1="210.8" x2="240.8" y2="210.8" stroke="#111" stroke-width="1.35"/>
<line x1="220.1" y1="207.8" x2="220.1" y2="213.3" stroke="#111" stroke-width="1.35"/>
<line x1="209.5" y1="207.8" x2="230.7" y2="207.8" stroke="#111" stroke-width="1.35"/>
<line x1="209.5" y1="213.3" x2="230.7" y2="213.3" stroke="#111" stroke-width="1.35"/>
<line x1="261.7" y1="180.3" x2="302.1" y2="180.3" stroke="#111" stroke-width="1.35"/>
<line x1="281.7" y1="176.4" x2="281.7" y2="184.7" stroke="#111" stroke-width="1.35"/>
<line x1="271.59999999999997" y1="176.4" x2="291.8" y2="176.4" stroke="#111" stroke-width="1.35"/>
<line x1="271.59999999999997" y1="184.7" x2="291.8" y2="184.7" stroke="#111" stroke-width="1.35"/>
</svg>
</body></html>
